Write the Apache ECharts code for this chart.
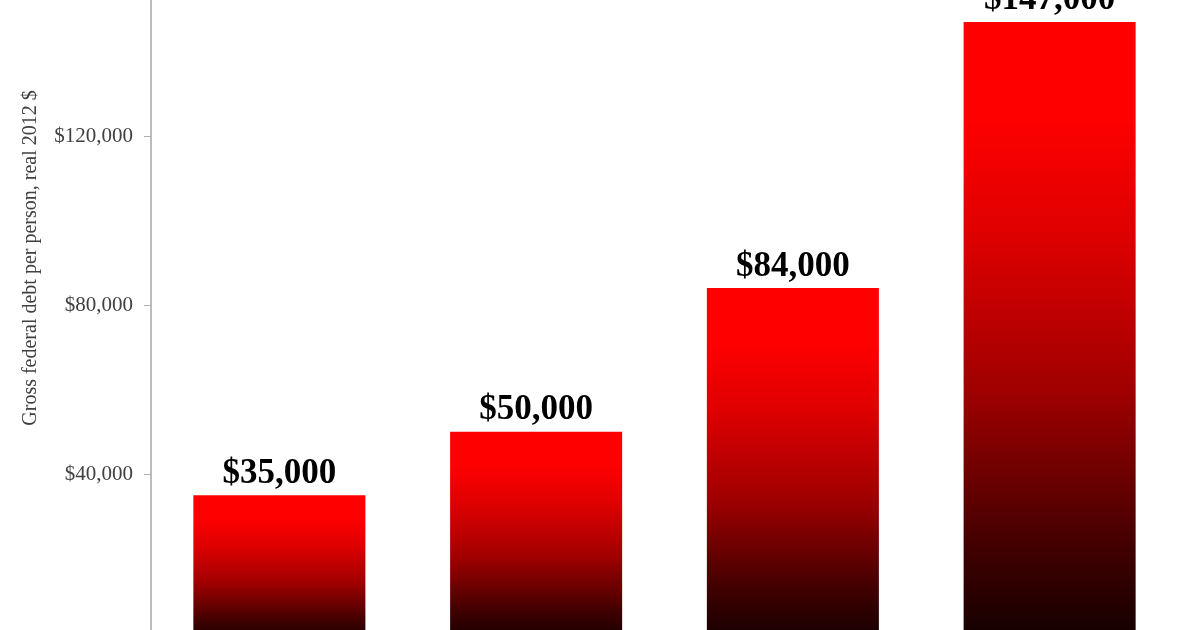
<!DOCTYPE html>
<html>
<head>
<meta charset="utf-8">
<script src="https://cdn.jsdelivr.net/npm/echarts@6/dist/echarts.min.js"></script>
<style>
html,body{margin:0;padding:0;background:#fff;overflow:hidden;width:1200px;height:630px;}
#c{width:1200px;height:676px;position:absolute;left:0;top:-33px;}
</style>
</head>
<body>
<div id="c"></div>
<script>
const categories = ['A', 'B', 'C', 'D'];
const debtPerPerson = [35000, 50000, 84000, 147000];
const yMin = 0, yMax = 160000, yStep = 40000;
const axisTitle = 'Gross federal debt per person, real 2012 $';

const fmt = v => '$' + v.toLocaleString('en-US');
const chart = echarts.init(document.getElementById('c'));
chart.setOption({
  animation: false,
  backgroundColor: '#ffffff',
  grid: { left: 151, right: 22, top: 0, bottom: 0, containLabel: false, outerBoundsMode: 'none' },
  xAxis: {
    type: 'category', data: categories,
    axisLine: { show: false }, axisTick: { show: false }, axisLabel: { show: false }
  },
  yAxis: {
    type: 'value', min: yMin, max: yMax, interval: yStep,
    name: axisTitle, nameLocation: 'middle', nameGap: 110,
    nameTextStyle: { fontFamily: 'Liberation Serif', fontSize: 20, color: '#404040', padding: [0, 0, 0, 94] },
    axisLine: { show: true, lineStyle: { color: '#a6a6a6', width: 1.5 } },
    axisTick: { show: true, length: 7, lineStyle: { color: '#b0b0b0' } },
    splitLine: { show: false },
    axisLabel: { fontFamily: 'Liberation Serif', fontSize: 21, color: '#404040', margin: 18, formatter: fmt }
  },
  series: [{
    type: 'bar', data: debtPerPerson, barWidth: '67%',
    itemStyle: {
      color: new echarts.graphic.LinearGradient(0, 0, 0, 1, [
        { offset: 0, color: '#ff0000' },
        { offset: 0.15, color: '#ff0000' },
        { offset: 0.35, color: '#dd0000' },
        { offset: 0.6, color: '#9e0000' },
        { offset: 0.85, color: '#400000' },
        { offset: 1, color: '#120000' }
      ])
    },
    label: {
      show: true, position: 'top', distance: 4,
      fontFamily: 'Liberation Serif', fontWeight: 'bold', fontSize: 35, color: '#000',
      formatter: p => fmt(p.value)
    }
  }]
});
</script>
</body>
</html>
